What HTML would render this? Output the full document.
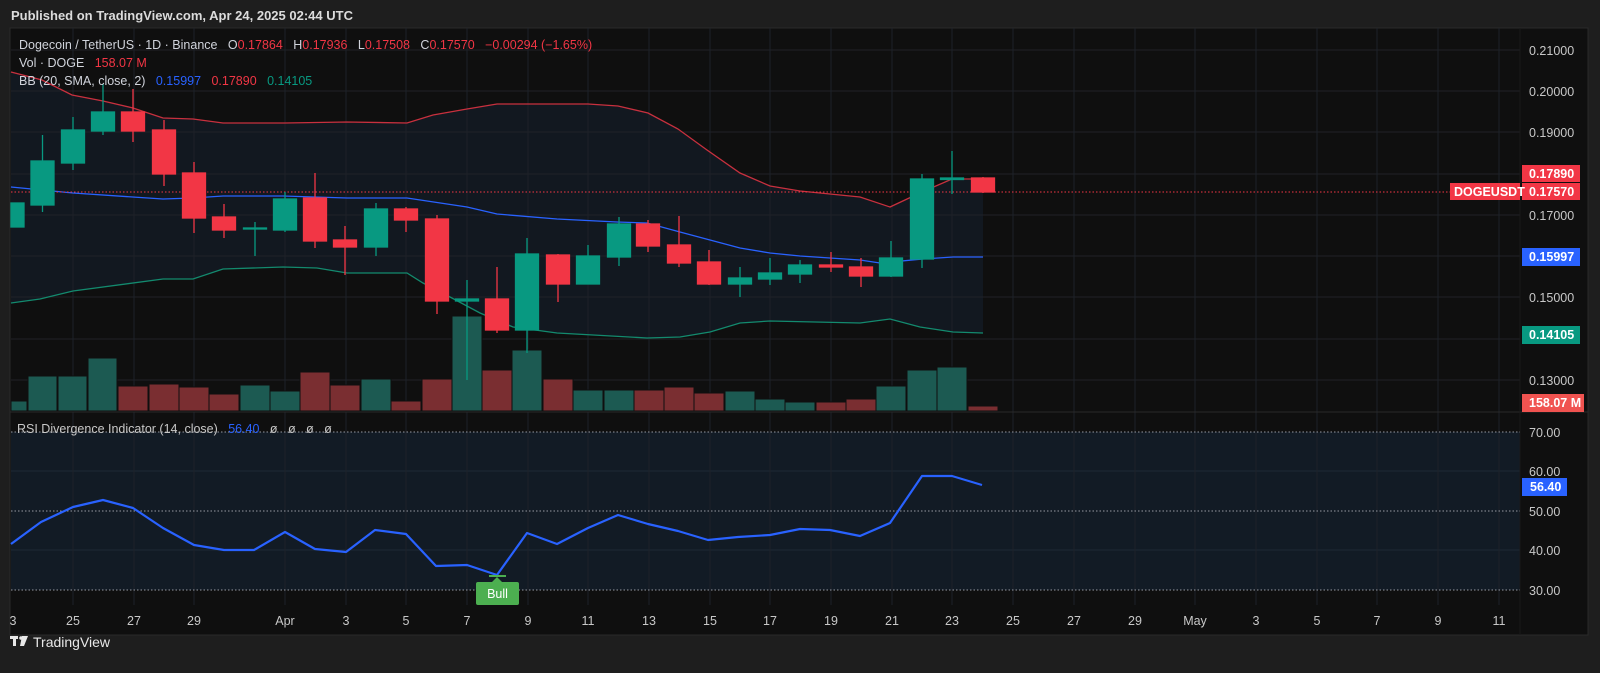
<!DOCTYPE html>
<html><head><meta charset="utf-8"><style>
html,body{margin:0;padding:0;background:#1e1e1e;}
svg{display:block;font-family:"Liberation Sans",sans-serif;}
</style></head><body>
<svg width="1600" height="673" viewBox="0 0 1600 673" xmlns="http://www.w3.org/2000/svg">
<rect width="1600" height="673" fill="#1e1e1e"/>
<text x="11" y="20" fill="#dcdcdc" font-size="13" font-weight="bold">Published on TradingView.com, Apr 24, 2025 02:44 UTC</text>
<rect x="10" y="28" width="1578" height="607" fill="#0f0f0f" stroke="#2a2a2a"/>
<polygon fill="#121820" points="11,72 42,80 72,95 103,101 133,108 163,118 193,119 223,123 285,123 347,122 407,123 433,115 467,109 497,104 527,104 557,104 588,104 618,106 648,113 678,129 707,150 740,173 770,186 800,191 830,194 860,197 890,207 922,192 952,179 983,179 983,333 953,332 920,327 890,319 860,323 770,321 740,323 710,332 680,337 647,338 557,333 513,327 480,313 450,297 423,283 407,273 347,273 317,268 283,267 223,269 193,279 163,279 73,291 40,299 11,303"/>
<rect x="11" y="432" width="1509" height="158" fill="#121b25"/>
<g stroke="#202227" stroke-width="1">
<line x1="11" y1="50" x2="1520" y2="50"/><line x1="11" y1="91" x2="1520" y2="91"/><line x1="11" y1="132" x2="1520" y2="132"/><line x1="11" y1="174" x2="1520" y2="174"/><line x1="11" y1="215" x2="1520" y2="215"/><line x1="11" y1="256" x2="1520" y2="256"/><line x1="11" y1="297" x2="1520" y2="297"/><line x1="11" y1="339" x2="1520" y2="339"/><line x1="11" y1="380" x2="1520" y2="380"/>
<line x1="11" y1="471" x2="1520" y2="471" stroke="#1f2a35"/><line x1="11" y1="550" x2="1520" y2="550" stroke="#1f2a35"/>
</g>
<g stroke="#1d2129">
<line x1="73" y1="28" x2="73" y2="605"/><line x1="134" y1="28" x2="134" y2="605"/><line x1="194" y1="28" x2="194" y2="605"/><line x1="285" y1="28" x2="285" y2="605"/><line x1="346" y1="28" x2="346" y2="605"/><line x1="406" y1="28" x2="406" y2="605"/><line x1="467" y1="28" x2="467" y2="605"/><line x1="528" y1="28" x2="528" y2="605"/><line x1="588" y1="28" x2="588" y2="605"/><line x1="649" y1="28" x2="649" y2="605"/><line x1="710" y1="28" x2="710" y2="605"/><line x1="770" y1="28" x2="770" y2="605"/><line x1="831" y1="28" x2="831" y2="605"/><line x1="892" y1="28" x2="892" y2="605"/><line x1="952" y1="28" x2="952" y2="605"/><line x1="1013" y1="28" x2="1013" y2="605"/><line x1="1074" y1="28" x2="1074" y2="605"/><line x1="1135" y1="28" x2="1135" y2="605"/><line x1="1195" y1="28" x2="1195" y2="605"/><line x1="1256" y1="28" x2="1256" y2="605"/><line x1="1317" y1="28" x2="1317" y2="605"/><line x1="1377" y1="28" x2="1377" y2="605"/><line x1="1438" y1="28" x2="1438" y2="605"/><line x1="1499" y1="28" x2="1499" y2="605"/>
</g>
<g stroke="#0f0f0f" stroke-width="1">
<rect x="11" y="401" width="16" height="10" fill="#1c5a52"/>
<rect x="28" y="376" width="29" height="35" fill="#1c5a52"/>
<rect x="58" y="376" width="29" height="35" fill="#1c5a52"/>
<rect x="88" y="358" width="29" height="53" fill="#1c5a52"/>
<rect x="118" y="386" width="30" height="25" fill="#7a2e31"/>
<rect x="149" y="384" width="30" height="27" fill="#7a2e31"/>
<rect x="179" y="387" width="30" height="24" fill="#7a2e31"/>
<rect x="209" y="394" width="30" height="17" fill="#7a2e31"/>
<rect x="240" y="385" width="30" height="26" fill="#1c5a52"/>
<rect x="270" y="391" width="30" height="20" fill="#1c5a52"/>
<rect x="300" y="372" width="30" height="39" fill="#7a2e31"/>
<rect x="330" y="385" width="30" height="26" fill="#7a2e31"/>
<rect x="361" y="379" width="30" height="32" fill="#1c5a52"/>
<rect x="391" y="401" width="30" height="10" fill="#7a2e31"/>
<rect x="422" y="379" width="30" height="32" fill="#7a2e31"/>
<rect x="452" y="316" width="30" height="95" fill="#1c5a52"/>
<rect x="482" y="370" width="30" height="41" fill="#7a2e31"/>
<rect x="512" y="350" width="30" height="61" fill="#1c5a52"/>
<rect x="543" y="379" width="30" height="32" fill="#7a2e31"/>
<rect x="573" y="390" width="30" height="21" fill="#1c5a52"/>
<rect x="604" y="390" width="30" height="21" fill="#1c5a52"/>
<rect x="634" y="390" width="30" height="21" fill="#7a2e31"/>
<rect x="664" y="387" width="30" height="24" fill="#7a2e31"/>
<rect x="694" y="393" width="30" height="18" fill="#7a2e31"/>
<rect x="725" y="391" width="30" height="20" fill="#1c5a52"/>
<rect x="755" y="399" width="30" height="12" fill="#1c5a52"/>
<rect x="785" y="402" width="30" height="9" fill="#1c5a52"/>
<rect x="816" y="402" width="30" height="9" fill="#7a2e31"/>
<rect x="846" y="399" width="30" height="12" fill="#7a2e31"/>
<rect x="876" y="386" width="30" height="25" fill="#1c5a52"/>
<rect x="907" y="370" width="30" height="41" fill="#1c5a52"/>
<rect x="937" y="367" width="30" height="44" fill="#1c5a52"/>
<rect x="968" y="406" width="30" height="5" fill="#7a2e31"/>
</g>
<polyline fill="none" stroke="#c8303e" stroke-width="1.3" points="11,72 42,80 72,95 103,101 133,108 163,118 193,119 223,123 285,123 347,122 407,123 433,115 467,109 497,104 527,104 557,104 588,104 618,106 648,113 678,129 707,150 740,173 770,186 800,191 830,194 860,197 890,207 922,192 952,179 983,179"/>
<polyline fill="none" stroke="#2962ff" stroke-width="1.3" points="11,187 73,193 163,199 193,198 223,196 283,196 347,198 407,198 467,207 497,214 557,219 617,222 647,223 680,232 710,240 740,248 770,253 800,256 830,258 860,260 880,263 923,259 953,257 983,257"/>
<polyline fill="none" stroke="#138a6e" stroke-width="1.3" points="11,303 40,299 73,291 163,279 193,279 223,269 283,267 317,268 347,273 407,273 423,283 450,297 480,313 513,327 557,333 647,338 680,337 710,332 740,323 770,321 860,323 890,319 920,327 953,332 983,333"/>
<line x1="11" y1="192" x2="1450" y2="192" stroke="#f23645" stroke-dasharray="1.5,2"/>
<g stroke-width="1.3">
<g stroke="#089981" fill="#089981">
<rect x="11" y="203" width="13" height="24"/>
<line x1="42.5" y1="135" x2="42.5" y2="212"/><rect x="31" y="161" width="23" height="44"/>
<line x1="73" y1="117" x2="73" y2="170"/><rect x="61.5" y="130" width="23" height="33"/>
<line x1="103" y1="84" x2="103" y2="135"/><rect x="91.5" y="112" width="23" height="19"/>
<line x1="255" y1="222" x2="255" y2="256"/><rect x="243.5" y="228" width="23" height="1"/>
<line x1="285" y1="192" x2="285" y2="232"/><rect x="273.5" y="199" width="23" height="31"/>
<line x1="376" y1="203" x2="376" y2="256"/><rect x="364.5" y="209" width="23" height="38"/>
<line x1="467" y1="280" x2="467" y2="380"/><rect x="455.5" y="299" width="23" height="2"/>
<line x1="527" y1="238" x2="527" y2="353"/><rect x="515.5" y="254" width="23" height="76"/>
<line x1="588" y1="245" x2="588" y2="284"/><rect x="576.5" y="256" width="23" height="28"/>
<line x1="619" y1="217" x2="619" y2="266"/><rect x="607.5" y="224" width="23" height="33"/>
<line x1="740" y1="267" x2="740" y2="297"/><rect x="728.5" y="278" width="23" height="6"/>
<line x1="770" y1="258" x2="770" y2="285"/><rect x="758.5" y="273" width="23" height="6"/>
<line x1="800" y1="260" x2="800" y2="283"/><rect x="788.5" y="265" width="23" height="9"/>
<line x1="891" y1="241" x2="891" y2="277"/><rect x="879.5" y="258" width="23" height="18"/>
<line x1="922" y1="174" x2="922" y2="268"/><rect x="910.5" y="179" width="23" height="80"/>
<line x1="952" y1="151" x2="952" y2="194"/><rect x="940.5" y="178" width="23" height="1.5"/>
</g>
<g stroke="#f23645" fill="#f23645">
<line x1="133" y1="89" x2="133" y2="142"/><rect x="121.5" y="112" width="23" height="19"/>
<line x1="164" y1="120" x2="164" y2="186"/><rect x="152.5" y="130" width="23" height="44"/>
<line x1="194" y1="162" x2="194" y2="233"/><rect x="182.5" y="173" width="23" height="45"/>
<line x1="224" y1="204" x2="224" y2="238"/><rect x="212.5" y="217" width="23" height="13"/>
<line x1="315" y1="173" x2="315" y2="248"/><rect x="303.5" y="198" width="23" height="43"/>
<line x1="345" y1="226" x2="345" y2="275"/><rect x="333.5" y="240" width="23" height="7"/>
<line x1="406" y1="207" x2="406" y2="232"/><rect x="394.5" y="209" width="23" height="11"/>
<line x1="437" y1="215" x2="437" y2="314"/><rect x="425.5" y="219" width="23" height="82"/>
<line x1="497" y1="267" x2="497" y2="333"/><rect x="485.5" y="299" width="23" height="31"/>
<line x1="558" y1="254" x2="558" y2="302"/><rect x="546.5" y="255" width="23" height="29"/>
<line x1="648" y1="220" x2="648" y2="252"/><rect x="636.5" y="224" width="23" height="22"/>
<line x1="679" y1="216" x2="679" y2="267"/><rect x="667.5" y="245" width="23" height="18"/>
<line x1="709" y1="250" x2="709" y2="285"/><rect x="697.5" y="262" width="23" height="22"/>
<line x1="831" y1="252" x2="831" y2="272"/><rect x="819.5" y="265" width="23" height="2"/>
<line x1="861" y1="258" x2="861" y2="287"/><rect x="849.5" y="267" width="23" height="9"/>
<line x1="983" y1="177" x2="983" y2="193"/><rect x="971.5" y="178" width="23" height="14"/>
</g>
</g>
<g font-size="12.5" xml:space="preserve">
<text x="19" y="49" fill="#d1d4dc" xml:space="preserve">Dogecoin / TetherUS · 1D · Binance   O<tspan fill="#f23645">0.17864</tspan>   H<tspan fill="#f23645">0.17936</tspan>   L<tspan fill="#f23645">0.17508</tspan>   C<tspan fill="#f23645">0.17570</tspan>   <tspan fill="#f23645">−0.00294 (−1.65%)</tspan></text>
<text x="19" y="67" fill="#d1d4dc" xml:space="preserve">Vol · DOGE   <tspan fill="#f23645">158.07 M</tspan></text>
<text x="19" y="85" fill="#d1d4dc" xml:space="preserve">BB (20, SMA, close, 2)   <tspan fill="#2962ff">0.15997</tspan>   <tspan fill="#f23645">0.17890</tspan>   <tspan fill="#089981">0.14105</tspan></text>
</g>
<line x1="10" y1="412" x2="1588" y2="412" stroke="#2a2a2a"/>
<line x1="1520" y1="28" x2="1520" y2="635" stroke="#1a1a1a"/>
<g stroke="#9598a1" stroke-dasharray="1.5,2" stroke-width="1">
<line x1="11" y1="432" x2="1520" y2="432"/><line x1="11" y1="511" x2="1520" y2="511"/><line x1="11" y1="590" x2="1520" y2="590"/>
</g>
<text x="17" y="433" fill="#c8c8c8" font-size="12.5" xml:space="preserve">RSI Divergence Indicator (14, close)   <tspan fill="#2962ff">56.40</tspan>   ø   ø   ø   ø</text>
<polyline fill="none" stroke="#2962ff" stroke-width="2.2" stroke-linejoin="round" points="11,544 41,522 73,507 103,500 133,508 163,528 194,545 224,550 254,550 285,532 315,549 346,552 375,530 406,534 436,566 467,565 497,575 527,533 557,544 588,528 618,515 648,524 678,531 708,540 738,537 770,535 800,529 830,530 860,536 890,523 922,476 952,476 982,485"/>
<line x1="489" y1="576" x2="506" y2="576" stroke="#4caf50" stroke-width="2"/>
<polygon points="492,582 497,577 502,582" fill="#4caf50"/>
<rect x="476" y="582" width="43" height="23" rx="2" fill="#4caf50"/>
<text x="497.5" y="598" fill="#fff" font-size="12.5" text-anchor="middle">Bull</text>
<g fill="#c8c8c8" font-size="12.5" text-anchor="middle">
<text x="13" y="625">3</text><text x="73" y="625">25</text><text x="134" y="625">27</text><text x="194" y="625">29</text><text x="285" y="625">Apr</text><text x="346" y="625">3</text><text x="406" y="625">5</text><text x="467" y="625">7</text><text x="528" y="625">9</text><text x="588" y="625">11</text><text x="649" y="625">13</text><text x="710" y="625">15</text><text x="770" y="625">17</text><text x="831" y="625">19</text><text x="892" y="625">21</text><text x="952" y="625">23</text><text x="1013" y="625">25</text><text x="1074" y="625">27</text><text x="1135" y="625">29</text><text x="1195" y="625">May</text><text x="1256" y="625">3</text><text x="1317" y="625">5</text><text x="1377" y="625">7</text><text x="1438" y="625">9</text><text x="1499" y="625">11</text>
</g>
<g fill="#c8c8c8" font-size="12.5">
<text x="1529" y="55">0.21000</text><text x="1529" y="96">0.20000</text><text x="1529" y="137">0.19000</text><text x="1529" y="220">0.17000</text><text x="1529" y="302">0.15000</text><text x="1529" y="385">0.13000</text>
<text x="1529" y="437">70.00</text><text x="1529" y="476">60.00</text><text x="1529" y="516">50.00</text><text x="1529" y="555">40.00</text><text x="1529" y="595">30.00</text>
</g>
<g font-size="12.5" font-weight="bold" fill="#fff">
<rect x="1522" y="165" width="58" height="17" fill="#f23645"/><text x="1529" y="178">0.17890</text>
<rect x="1522" y="183" width="58" height="17" fill="#f23645"/><text x="1529" y="196">0.17570</text>
<rect x="1450" y="183" width="70" height="17" fill="#f23645"/><text x="1454" y="196">DOGEUSDT</text>
<rect x="1522" y="248" width="58" height="18" fill="#2962ff"/><text x="1529" y="261">0.15997</text>
<rect x="1522" y="326" width="58" height="18" fill="#089981"/><text x="1529" y="339">0.14105</text>
<rect x="1522" y="394" width="62" height="18" fill="#f05350"/><text x="1529" y="407">158.07 M</text>
<rect x="1522" y="478" width="45" height="18" fill="#2962ff"/><text x="1530" y="491">56.40</text>
</g>
<g fill="#e8e8e8">
<rect x="10" y="636" width="8" height="3"/><rect x="13" y="636" width="3" height="10"/>
<circle cx="21" cy="638" r="1.8"/><polygon points="22,636 28,636 24,646 20,646"/>
<text x="33" y="647" font-size="14">TradingView</text>
</g>
</svg>
</body></html>
